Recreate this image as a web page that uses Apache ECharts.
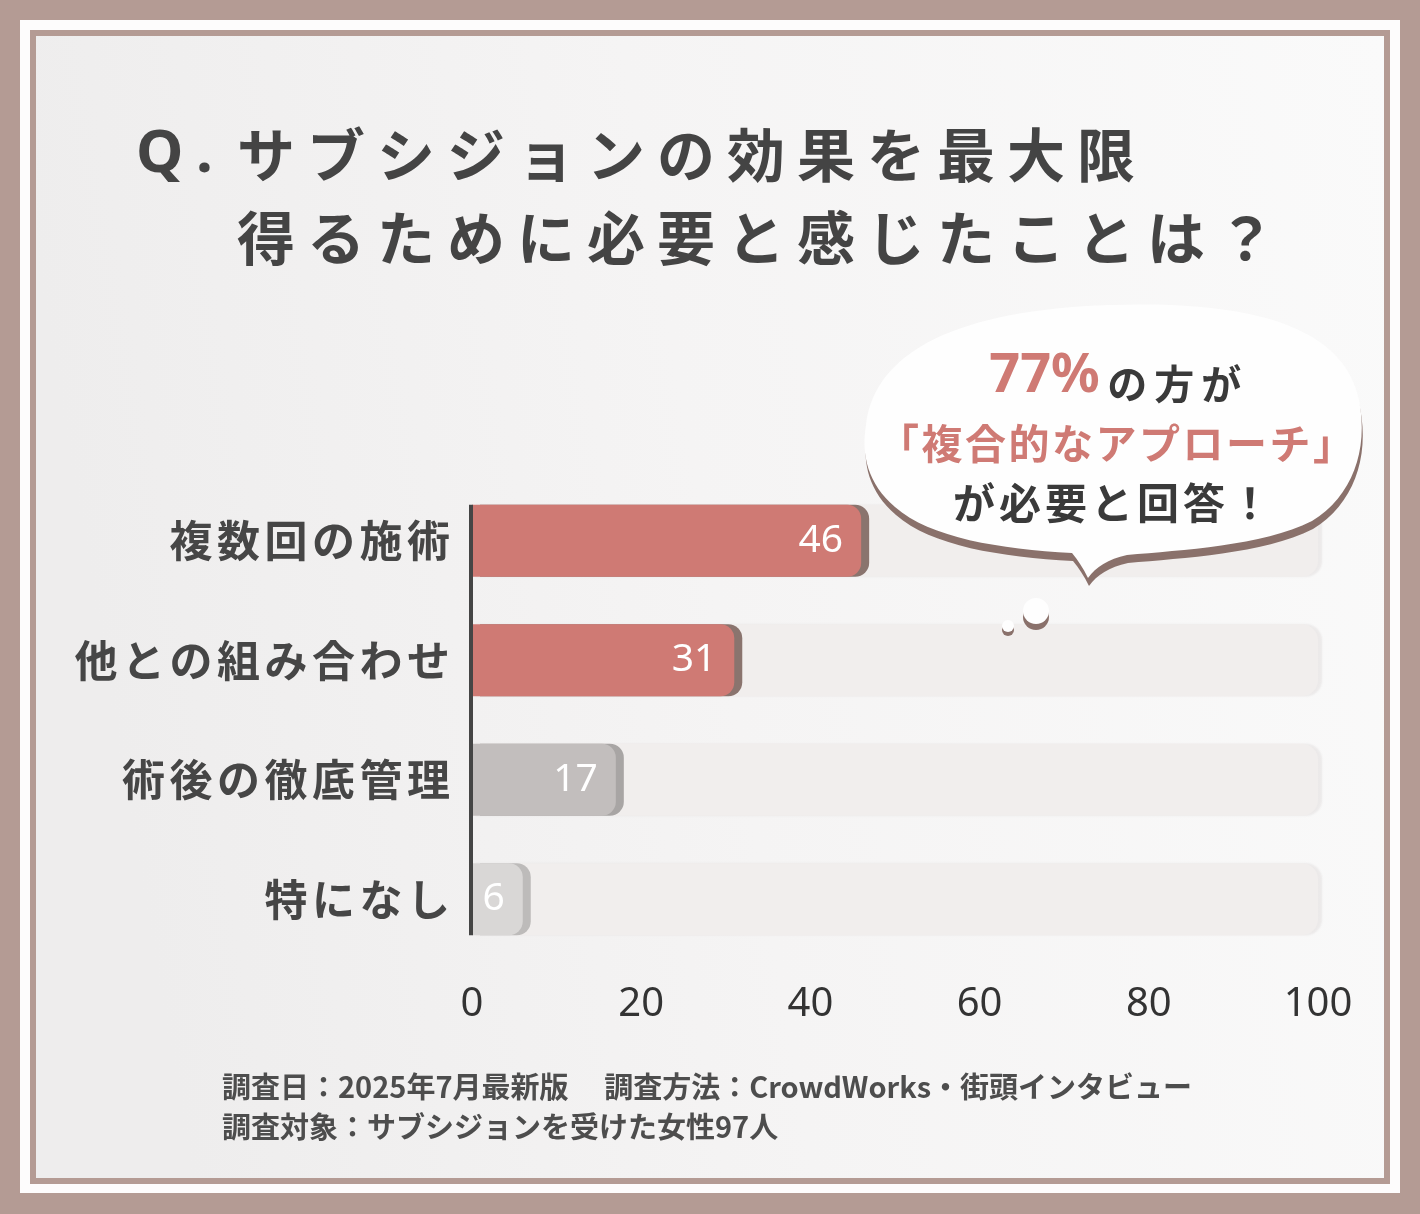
<!DOCTYPE html>
<html><head><meta charset="utf-8">
<script src="https://cdn.jsdelivr.net/npm/echarts@6/dist/echarts.min.js"></script>
<style>html,body{margin:0;padding:0;background:#b49b94}#c{width:1420px;height:1214px}</style>
</head><body><div id="c"></div>
<script>
// ---- data ----
const categories = ['複数回の施術', '他との組み合わせ', '術後の徹底管理', '特になし'];
const values = [46, 31, 17, 6];
const xTicks = [0, 20, 40, 60, 80, 100];
const titlePrefix = 'Q.';
const titleLine1 = 'サブシジョンの効果を最大限';
const titleLine2 = '得るために必要と感じたことは？';
const bubbleHighlight = '77%';
const bubbleLine1 = 'の方が';
const bubbleLine2 = '「複合的なアプローチ」';
const bubbleLine3 = 'が必要と回答！';
const footerLine1 = '調査日：2025年7月最新版　 調査方法：CrowdWorks・街頭インタビュー';
const footerLine2 = '調査対象：サブシジョンを受けた女性97人';

// ---- styles ----
const FONT = "'Noto Sans CJK JP','Noto Sans',sans-serif";
const LATIN = "'Noto Sans','Noto Sans CJK JP',sans-serif";
const RED = '#cf7a74';
const DARK = '#444444';
const barColors = [RED, RED, '#c2bebd', '#d9d7d6'];
const barShadows = ['#8a746e', '#8a746e', '#a8a5a4', '#bdbbba'];
const spaced = (s, k) => Array.from(s).map(ch => '{' + k + '|' + ch + '}').join('');
const prefixKeys = ['q', 'd'];
const prefixText = Array.from(titlePrefix).map((ch, i) => '{' + prefixKeys[Math.min(i, 1)] + '|' + ch + '}').join('');

// speech bubble outline (decoration shape)
const bubblePath = 'M1088,578 C1083,568 1078,560 1072,553 C1000,549 930,538 895,507 C868,484 861,455 866,425 C875,350 960,310 1110,305 C1260,300 1345,330 1359,400 C1369,450 1352,497 1312,521 C1262,546 1182,550 1127,555 C1108,559 1096,567 1088,578 Z';
echarts.graphic.registerShape('speechBubble', echarts.graphic.extendPath(bubblePath, {}));

const chart = echarts.init(document.getElementById('c'), null, { renderer: 'canvas', width: 1420, height: 1214 });

const titleChar = { fontSize: 58, fontWeight: 'bold', color: DARK, width: 70, lineHeight: 70, fontFamily: FONT };

const option = {
  backgroundColor: '#b49b94',
  animation: false,
  textStyle: { fontFamily: FONT },
  title: [
    {
      text: prefixText + spaced(titleLine1, 'c'),
      left: 136, top: 120, padding: 0, z: 30,
      textStyle: { rich: {
        q: { fontSize: 60, fontWeight: 'bold', color: DARK, width: 60, lineHeight: 70, fontFamily: LATIN },
        d: { fontSize: 60, fontWeight: 'bold', color: DARK, width: 41, lineHeight: 70, fontFamily: LATIN },
        c: titleChar
      } }
    },
    {
      text: spaced(titleLine2, 'c'),
      left: 237, top: 203, padding: 0, z: 30,
      textStyle: { rich: { c: titleChar } }
    },
    {
      text: '{h|' + bubbleHighlight + '}' + spaced(bubbleLine1, 'm'),
      left: 1117, top: 340, padding: 0, textAlign: 'center', z: 30,
      textStyle: { rich: {
        h: { fontSize: 54, fontWeight: 'bold', color: RED, fontFamily: LATIN, lineHeight: 64, verticalAlign: 'bottom', padding: [0, 4, 0, 0] },
        m: { fontSize: 40, fontWeight: 'bold', color: '#3a3a3a', width: 47, fontFamily: FONT, lineHeight: 64, verticalAlign: 'bottom' }
      } }
    },
    {
      text: spaced(bubbleLine2, 'r'),
      left: 1116, top: 419, padding: 0, textAlign: 'center', z: 30,
      textStyle: { rich: {
        r: { fontSize: 41, fontWeight: 'bold', color: RED, fontFamily: FONT, lineHeight: 48, width: 43.5 }
      } }
    },
    {
      text: spaced(bubbleLine3, 'm'),
      left: 1112, top: 478, padding: 0, textAlign: 'center', z: 30,
      textStyle: { rich: {
        m: { fontSize: 42, fontWeight: 'bold', color: '#3a3a3a', width: 46, fontFamily: FONT, lineHeight: 50 }
      } }
    },
    {
      text: footerLine1,
      left: 222, top: 1068, padding: 0,
      textStyle: { fontSize: 29, fontWeight: 'bold', color: '#4d4d4d', fontFamily: FONT, lineHeight: 38 }
    },
    {
      text: footerLine2,
      left: 222, top: 1108, padding: 0,
      textStyle: { fontSize: 29, fontWeight: 'bold', color: '#4d4d4d', fontFamily: FONT, lineHeight: 38 }
    }
  ],
  graphic: { elements: [
    { id: 'frameWhite', type: 'rect', z: -20, silent: true, shape: { x: 20, y: 20, width: 1380, height: 1173 }, style: { fill: '#fdfcfc' } },
    { id: 'frameLine', type: 'rect', z: -19, silent: true, shape: { x: 30, y: 30, width: 1360, height: 1154 }, style: { fill: '#b49b94' } },
    { id: 'panel', type: 'rect', z: -18, silent: true, shape: { x: 36, y: 36, width: 1348, height: 1142 },
      style: { fill: new echarts.graphic.LinearGradient(0, 0.2, 1, 0, [
        { offset: 0, color: '#eeeded' }, { offset: 0.45, color: '#f5f4f4' }, { offset: 1, color: '#fafafa' }]) } },
    { id: 'bubble', type: 'speechBubble', z: 20, silent: true,
      style: { fill: '#fefefe', shadowColor: '#8a716b', shadowOffsetY: 8, shadowOffsetX: 1, shadowBlur: 0 } },
    { id: 'dot1', type: 'circle', z: 20, silent: true, shape: { cx: 1036, cy: 611, r: 13 },
      style: { fill: '#fefefe', shadowColor: '#8a716b', shadowOffsetY: 6, shadowBlur: 0 } },
    { id: 'dot2', type: 'circle', z: 20, silent: true, shape: { cx: 1008, cy: 626, r: 6 },
      style: { fill: '#fefefe', shadowColor: '#8a716b', shadowOffsetY: 4, shadowBlur: 0 } }
  ] },
  grid: { left: 472, right: 102, top: 481, bottom: 255, containLabel: false, outerBoundsMode: 'none' },
  xAxis: {
    type: 'value', min: xTicks[0], max: xTicks[xTicks.length - 1], interval: xTicks[1] - xTicks[0],
    axisLine: { show: false }, axisTick: { show: false }, splitLine: { show: false },
    axisLabel: { color: '#333', fontSize: 40, fontFamily: LATIN, margin: 26 }
  },
  yAxis: {
    type: 'category', data: categories, inverse: true,
    axisLine: { show: false }, axisTick: { show: false },
    axisLabel: {
      margin: 22,
      formatter: v => spaced(v, 'c'),
      rich: { c: { fontSize: 43, width: 47.5, color: '#464646', fontFamily: FONT, fontWeight: 'bold', lineHeight: 50 } }
    }
  },
  series: [{
    type: 'bar',
    barWidth: 72,
    clip: false,
    showBackground: true,
    backgroundStyle: { color: '#f1eeed', borderRadius: [0, 16, 16, 0], shadowColor: 'rgba(120,100,95,0.10)', shadowOffsetX: 4, shadowBlur: 2 },
    data: values.map((v, i) => ({
      value: v,
      itemStyle: { color: barColors[i], shadowColor: barShadows[i] }
    })),
    itemStyle: { borderRadius: [0, 14, 14, 0], shadowOffsetX: 8, shadowOffsetY: 0, shadowBlur: 0 },
    label: { show: true, position: 'insideRight', distance: 18, color: '#fff', fontSize: 39, fontFamily: LATIN }
  }]
};
chart.setOption(option);

// vertical axis line spanning the bars, positioned from the library's scales
const yFirst = chart.convertToPixel({ yAxisIndex: 0 }, categories[0]);
const yLast = chart.convertToPixel({ yAxisIndex: 0 }, categories[categories.length - 1]);
const x0 = chart.convertToPixel({ xAxisIndex: 0 }, 0);
chart.setOption({ graphic: { elements: [
  { id: 'yAxisLine', type: 'line', z: 10, silent: true,
    shape: { x1: x0 - 1, y1: yFirst - 36, x2: x0 - 1, y2: yLast + 36 },
    style: { stroke: '#454545', lineWidth: 4 } }
] } });
</script></body></html>
